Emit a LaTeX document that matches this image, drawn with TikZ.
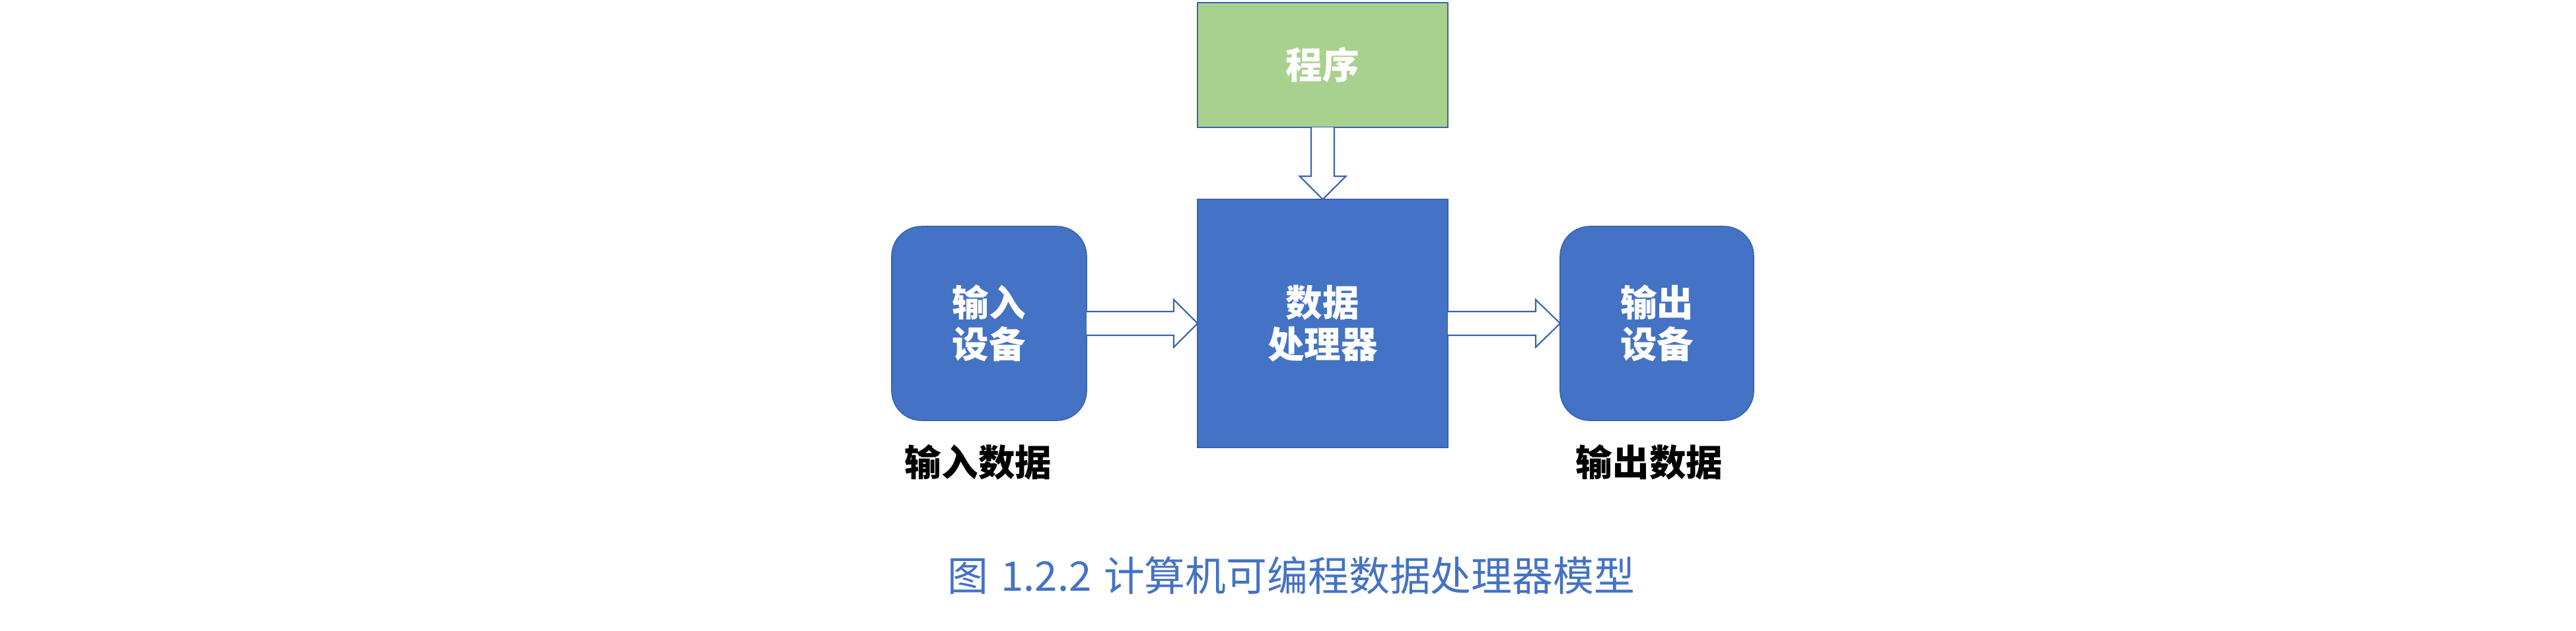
\documentclass[tikz,border=0pt]{standalone}
\usepackage{fontspec}
\newfontfamily\cjk{Noto Sans CJK SC}
\usetikzlibrary{calc}
\definecolor{boxblue}{HTML}{4472C4}
\definecolor{edgeblue}{HTML}{3A63AE}
\definecolor{proggreen}{HTML}{A9D18E}
\begin{document}
\begin{tikzpicture}[
  box/.style={draw=edgeblue, line width=0.45pt, inner sep=0pt, outer sep=0pt,
    text=white, align=center, font=\cjk\bfseries\fontsize{15.8}{18}\selectfont},
  bluebox/.style={box, fill=boxblue},
  roundbox/.style={bluebox, rounded corners=0.45cm},
  greenbox/.style={box, fill=proggreen},
  datalabel/.style={inner sep=0pt, text=black, font=\cjk\bfseries\fontsize{15.8}{18}\selectfont},
  captionstyle/.style={inner sep=0pt, text=boxblue, font=\cjk\fontsize{17.6}{20}\selectfont},
  fatarrow/.style={draw=edgeblue, fill=white, line width=0.6pt, line join=miter}
]
\useasboundingbox (0,0) rectangle (39,-9.55);

\node[greenbox, minimum width=3.79cm, minimum height=1.89cm] (prog) at (20.025,-0.985) {程序};
\node[bluebox, minimum width=3.79cm, minimum height=3.76cm] (proc) at (20.025,-4.90) {数据\\处理器};
\node[roundbox, minimum width=2.95cm, minimum height=2.94cm] (in) at (14.975,-4.90) {输入\\设备};
\node[roundbox, minimum width=2.93cm, minimum height=2.94cm] (out) at (25.085,-4.90) {输出\\设备};

\node[datalabel] (labin) at (14.81,-7.0) {输入数据};
\node[datalabel] (labout) at (24.97,-7.0) {输出数据};

\node[captionstyle] (cap) at (19.55,-8.72) {图\hspace{0.3em}1.2.2\hspace{0.3em}计算机可编程数据处理器模型};

% input -> processor
\draw[fatarrow] ($(in.east)+(0,0.18)$) -- ($(proc.west)+(-0.36,0.18)$) -- ($(proc.west)+(-0.36,0.36)$)
  -- (proc.west) -- ($(proc.west)+(-0.36,-0.36)$) -- ($(proc.west)+(-0.36,-0.18)$) -- ($(in.east)+(0,-0.18)$);
% processor -> output
\draw[fatarrow] ($(proc.east)+(0,0.18)$) -- ($(out.west)+(-0.37,0.18)$) -- ($(out.west)+(-0.37,0.36)$)
  -- (out.west) -- ($(out.west)+(-0.37,-0.36)$) -- ($(out.west)+(-0.37,-0.18)$) -- ($(proc.east)+(0,-0.18)$);
% program -> processor
\draw[fatarrow] ($(prog.south)+(-0.175,0)$) -- ($(proc.north)+(-0.175,0.35)$) -- ($(proc.north)+(-0.35,0.35)$)
  -- (proc.north) -- ($(proc.north)+(0.35,0.35)$) -- ($(proc.north)+(0.175,0.35)$) -- ($(prog.south)+(0.175,0)$);
\end{tikzpicture}
\end{document}
